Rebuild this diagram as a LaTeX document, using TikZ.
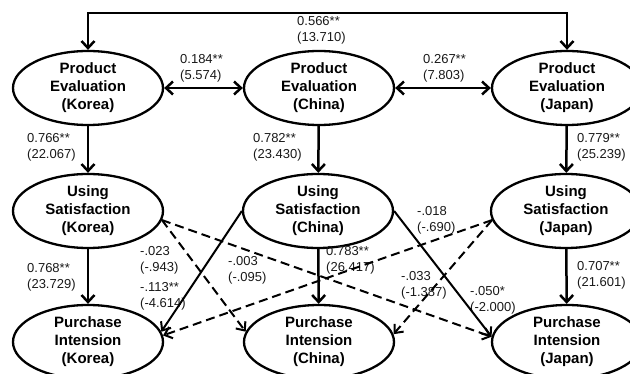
\documentclass[tikz,border=0pt]{standalone}
\usepackage{fontspec}
\setmainfont{Liberation Sans}
\usetikzlibrary{arrows.meta,shapes.geometric}
\begin{document}
\begin{tikzpicture}[x=1pt,y=-1pt,
  var/.style={draw, ellipse, line width=2.3pt, minimum width=150pt, minimum height=74pt,
    inner sep=0pt, align=center, font=\bfseries\fontsize{15}{18}\selectfont},
  mainarr/.style={line width=2.5pt, -{Straight Barb[length=7pt,width=13pt]}},
  dblarr/.style={line width=2.5pt, {Straight Barb[length=7pt,width=13pt]}-{Straight Barb[length=7pt,width=13pt]}},
  toparr/.style={line width=2.5pt, {Straight Barb[length=7pt,width=13pt]}-{Straight Barb[length=7pt,width=13pt]}},
  crossarr/.style={line width=2pt, -{Straight Barb[length=7pt,width=12pt]}},
  dasharr/.style={crossarr, dash pattern=on 9pt off 5pt},
  coef/.style={anchor=west, align=left, inner sep=0pt, font=\fontsize{13}{16}\selectfont, text=black!90}
]
\clip (0,0) rectangle (630,374);
\useasboundingbox (0,0) rectangle (630,374);

% nodes
\node[var] (pek) at (88,88) {Product\\Evaluation\\(Korea)};
\node[var] (pec) at (319,88) {Product\\Evaluation\\(China)};
\node[var] (pej) at (567,88) {Product\\Evaluation\\(Japan)};
\node[var] (usk) at (88,211) {Using\\Satisfaction\\(Korea)};
\node[var] (usc) at (318,211) {Using\\Satisfaction\\(China)};
\node[var] (usj) at (566,211) {Using\\Satisfaction\\(Japan)};
\node[var] (pik) at (88,342) {Purchase\\Intension\\(Korea)};
\node[var] (pic) at (319,342) {Purchase\\Intension\\(China)};
\node[var] (pij) at (567,342) {Purchase\\Intension\\(Japan)};

% coefficients
\node[coef] (c1) at (297,30) {0.566**\\(13.710)};
\node[coef] (c2) at (180,68) {0.184**\\(5.574)};
\node[coef] (c3) at (423,68) {0.267**\\(7.803)};
\node[coef] (c4) at (27,147) {0.766**\\(22.067)};
\node[coef] (c5) at (253,147) {0.782**\\(23.430)};
\node[coef] (c6) at (577,147) {0.779**\\(25.239)};
\node[coef] (c7) at (27,277) {0.768**\\(23.729)};
\node[coef] (c8) at (326,260) {0.783**\\(26.417)};
\node[coef] (c9) at (577,275) {0.707**\\(21.601)};
\node[coef] (c10) at (140,260) {-.023\\(-.943)};
\node[coef] (c11) at (140,296) {-.113**\\(-4.614)};
\node[coef] (c12) at (228,270) {-.003\\(-.095)};
\node[coef] (c13) at (417,220) {-.018\\(-.690)};
\node[coef] (c14) at (401,285) {-.033\\(-1.387)};
\node[coef] (c15) at (470,300) {-.050*\\(-2.000)};

% top connector
\coordinate (top) at (0,13);
\draw[toparr] (pek.north) -- (pek.north |- top) -- (pej.north |- top) -- (pej.north);

% correlations
\draw[dblarr] (pek.east) -- (pec.west);
\draw[dblarr] (pec.east) -- (pej.west);

% vertical paths
\draw[mainarr] (pek) -- (usk);
\draw[mainarr] (pec) -- (usc);
\draw[mainarr] (pej) -- (usj);
\draw[mainarr] (usk) -- (pik);
\draw[mainarr] (usc) -- (pic);
\draw[mainarr] (usj) -- (pij);

% cross paths
\draw[crossarr] (usc.west) -- (pik.8);
\draw[crossarr] (usc.east) -- (pij.176);
\draw[dasharr] (usk.-7) -- (pic.172);
\draw[dasharr] (usk.-7) -- (pij.176);
\draw[dasharr] (usj.187) -- (pik.5);
\draw[dasharr] (usj.187) -- (pic.6);
\end{tikzpicture}
\end{document}
